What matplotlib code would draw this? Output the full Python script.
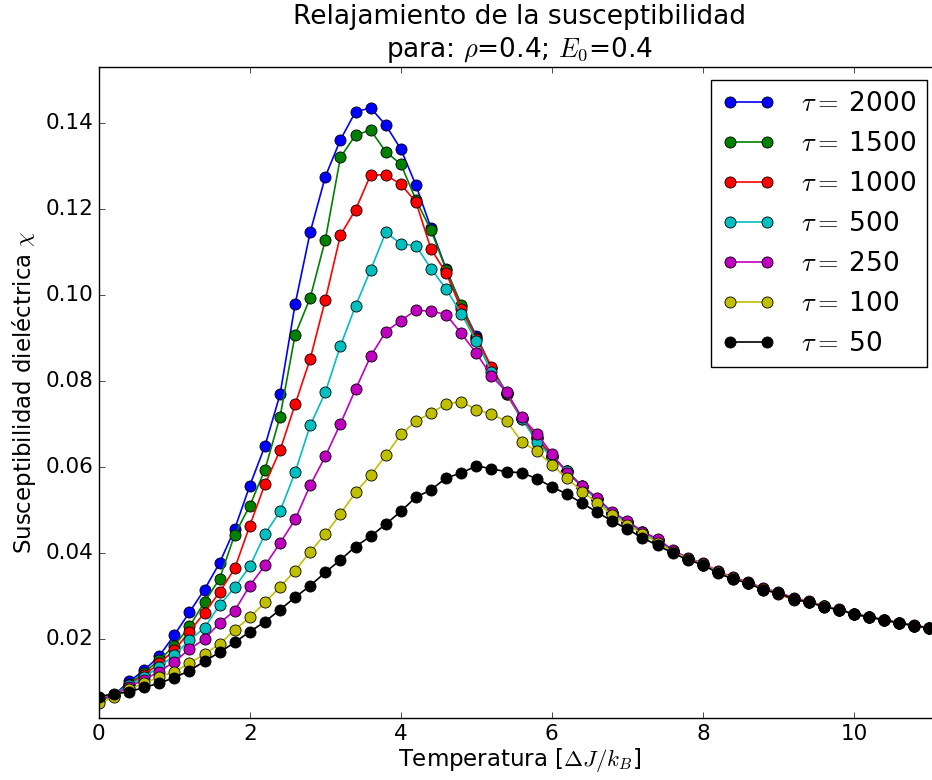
import matplotlib
matplotlib.use('Agg')
import matplotlib.pyplot as plt
import numpy as np

plt.style.use('classic')

# temperaturas (paso 0.2 de 0 a 11)
temperatura = np.round(np.arange(0, 11.01, 0.2), 1)

tau_labels = ['2000', '1500', '1000', '500', '250', '100', '50']
colores = ['b', 'g', 'r', 'c', 'm', 'y', 'k']

chi_2000 = [0.0056, 0.0068, 0.0100, 0.0126, 0.0159, 0.0208, 0.0261, 0.0314, 0.0376, 0.0455,
            0.0556, 0.0648, 0.0768, 0.0978, 0.1146, 0.1275, 0.1361, 0.1426, 0.1435, 0.1395,
            0.1339, 0.1255, 0.1155, 0.1060, 0.0975, 0.0904, 0.0830, 0.0772, 0.0714, 0.0667,
            0.0623, 0.0590, 0.0554, 0.0525, 0.0492, 0.0472, 0.0447, 0.0430, 0.0404, 0.0385,
            0.0372, 0.0354, 0.0340, 0.0330, 0.0315, 0.0306, 0.0292, 0.0286, 0.0275, 0.0267,
            0.0257, 0.0250, 0.0243, 0.0236, 0.0230, 0.0224]
chi_1500 = [0.0056, 0.0068, 0.0095, 0.0120, 0.0150, 0.0183, 0.0228, 0.0285, 0.0339, 0.0442,
            0.0509, 0.0593, 0.0716, 0.0907, 0.0993, 0.1128, 0.1320, 0.1372, 0.1383, 0.1333,
            0.1304, 0.1221, 0.1150, 0.1058, 0.0977, 0.0900, 0.0830, 0.0770, 0.0710, 0.0668,
            0.0624, 0.0590, 0.0554, 0.0525, 0.0492, 0.0472, 0.0447, 0.0430, 0.0404, 0.0385,
            0.0372, 0.0354, 0.0340, 0.0330, 0.0315, 0.0306, 0.0292, 0.0286, 0.0275, 0.0267,
            0.0257, 0.0250, 0.0243, 0.0236, 0.0230, 0.0224]
chi_1000 = [0.0056, 0.0068, 0.0092, 0.0115, 0.0142, 0.0173, 0.0216, 0.0260, 0.0308, 0.0363,
            0.0463, 0.0559, 0.0638, 0.0745, 0.0851, 0.0988, 0.1139, 0.1198, 0.1279, 0.1279,
            0.1257, 0.1216, 0.1106, 0.1051, 0.0966, 0.0898, 0.0833, 0.0768, 0.0713, 0.0666,
            0.0625, 0.0589, 0.0553, 0.0524, 0.0492, 0.0471, 0.0446, 0.0430, 0.0404, 0.0385,
            0.0373, 0.0354, 0.0339, 0.0330, 0.0314, 0.0304, 0.0290, 0.0285, 0.0274, 0.0267,
            0.0257, 0.0250, 0.0243, 0.0236, 0.0230, 0.0224]
chi_500 = [0.0057, 0.0068, 0.0092, 0.0110, 0.0134, 0.0161, 0.0196, 0.0225, 0.0278, 0.0319,
           0.0368, 0.0443, 0.0496, 0.0587, 0.0696, 0.0773, 0.0881, 0.0974, 0.1058, 0.1145,
           0.1119, 0.1114, 0.1061, 0.1013, 0.0956, 0.0892, 0.0820, 0.0772, 0.0712, 0.0658,
           0.0622, 0.0591, 0.0553, 0.0524, 0.0491, 0.0471, 0.0446, 0.0429, 0.0403, 0.0384,
           0.0371, 0.0354, 0.0340, 0.0330, 0.0315, 0.0307, 0.0293, 0.0286, 0.0275, 0.0267,
           0.0257, 0.0250, 0.0243, 0.0236, 0.0230, 0.0224]
chi_250 = [0.0058, 0.0068, 0.0088, 0.0104, 0.0123, 0.0146, 0.0175, 0.0199, 0.0236, 0.0265,
           0.0323, 0.0370, 0.0422, 0.0477, 0.0557, 0.0624, 0.0700, 0.0780, 0.0857, 0.0914,
           0.0940, 0.0964, 0.0962, 0.0954, 0.0910, 0.0864, 0.0811, 0.0774, 0.0715, 0.0677,
           0.0630, 0.0586, 0.0556, 0.0527, 0.0494, 0.0474, 0.0449, 0.0432, 0.0406, 0.0388,
           0.0375, 0.0357, 0.0342, 0.0332, 0.0317, 0.0308, 0.0295, 0.0287, 0.0276, 0.0268,
           0.0258, 0.0251, 0.0244, 0.0237, 0.0231, 0.0225]
chi_100 = [0.0049, 0.0063, 0.0082, 0.0096, 0.0110, 0.0123, 0.0142, 0.0164, 0.0187, 0.0220,
           0.0249, 0.0284, 0.0320, 0.0358, 0.0402, 0.0443, 0.0490, 0.0540, 0.0580, 0.0626,
           0.0675, 0.0706, 0.0725, 0.0746, 0.0751, 0.0733, 0.0722, 0.0706, 0.0658, 0.0636,
           0.0604, 0.0573, 0.0542, 0.0516, 0.0487, 0.0465, 0.0444, 0.0423, 0.0402, 0.0386,
           0.0373, 0.0355, 0.0340, 0.0330, 0.0315, 0.0306, 0.0293, 0.0286, 0.0275, 0.0267,
           0.0258, 0.0250, 0.0243, 0.0236, 0.0230, 0.0224]
chi_50 = [0.0065, 0.0071, 0.0076, 0.0086, 0.0096, 0.0109, 0.0125, 0.0147, 0.0168, 0.0191,
          0.0216, 0.0239, 0.0267, 0.0296, 0.0323, 0.0354, 0.0383, 0.0414, 0.0438, 0.0466,
          0.0496, 0.0529, 0.0546, 0.0574, 0.0585, 0.0602, 0.0595, 0.0588, 0.0586, 0.0572,
          0.0553, 0.0536, 0.0515, 0.0494, 0.0473, 0.0455, 0.0434, 0.0417, 0.0399, 0.0383,
          0.0372, 0.0352, 0.0338, 0.0329, 0.0313, 0.0306, 0.0292, 0.0285, 0.0274, 0.0267,
          0.0257, 0.0250, 0.0243, 0.0236, 0.0230, 0.0224]

series = [chi_2000, chi_1500, chi_1000, chi_500, chi_250, chi_100, chi_50]

fig = plt.figure(figsize=(9.32, 7.8), dpi=100)
# el eje se sale un poco por la derecha (la imagen original esta recortada)
fig.subplots_adjust(left=0.106, right=1.0086, top=0.914, bottom=0.0795)
ax = fig.add_subplot(111)

for chi, tau, c in zip(series, tau_labels, colores):
    ax.plot(temperatura, chi, '-o', color=c, markersize=8, linewidth=1.2,
            markeredgecolor='k', markeredgewidth=0.6, label=r'$\tau=\;$' + tau)

ax.set_xlim(0, 11.14)
ax.set_ylim(0.0015, 0.153)
ax.set_xticks([0, 2, 4, 6, 8, 10])
ax.set_yticks([0.02, 0.04, 0.06, 0.08, 0.10, 0.12, 0.14])
ax.tick_params(labelsize=15.5)

ax.set_xlabel(r'Temperatura [$\Delta J/k_B$]', fontsize=16.5, labelpad=2)
ax.set_ylabel(r'Susceptibilidad dieléctrica $\chi$', fontsize=16.5)
ax.set_title('Relajamiento de la susceptibilidad\n' + r'para: $\rho$=0.4; $E_0$=0.4',
             fontsize=19, y=1.005)

leg = ax.legend(loc='upper right', fontsize=19, numpoints=2, borderaxespad=0.5,
                labelspacing=0.53, handletextpad=1.0)

fig.savefig('out.png', dpi=100)
